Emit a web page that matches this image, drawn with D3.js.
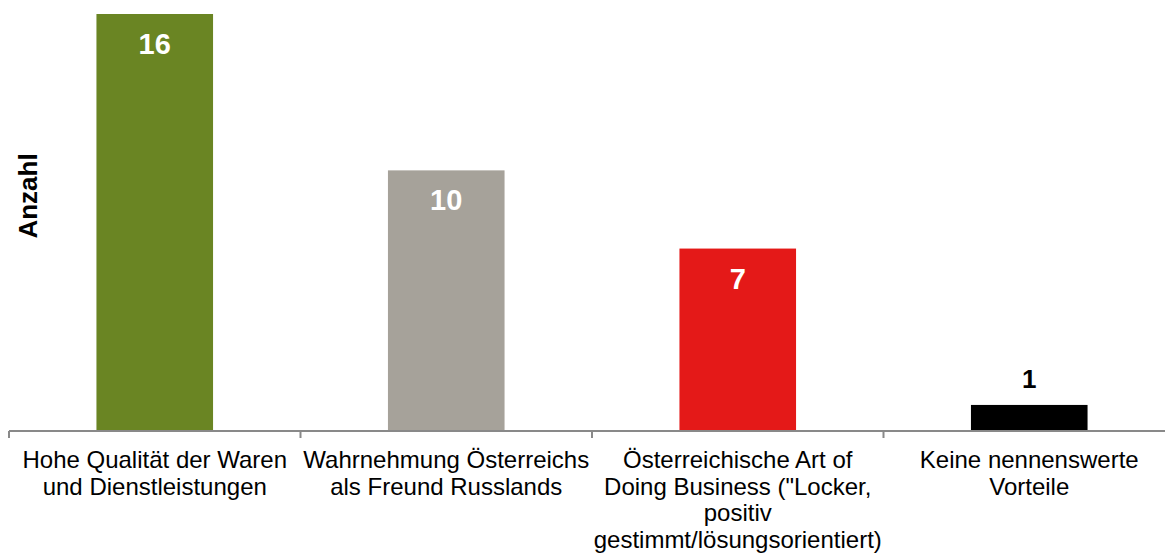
<!DOCTYPE html>
<html>
<head>
<meta charset="utf-8">
<script src="https://cdn.jsdelivr.net/npm/d3@7"></script>
<style>
  body { margin: 0; background: #ffffff; }
  svg { display: block; font-family: "Liberation Sans", Arial, sans-serif; }
</style>
</head>
<body>
<svg id="chart" width="1165" height="555"></svg>
<script>
// chart values
const categories = [
  'Hohe Qualität der Waren und Dienstleistungen',
  'Wahrnehmung Österreichs als Freund Russlands',
  'Österreichische Art of Doing Business ("Locker, positiv gestimmt/lösungsorientiert)',
  'Keine nennenswerte Vorteile',
];
const values = [16, 10, 7, 1];
const tickLines = [
  ['Hohe Qualität der Waren', 'und Dienstleistungen'],
  ['Wahrnehmung Österreichs', 'als Freund Russlands'],
  ['Österreichische Art of', 'Doing Business ("Locker,', 'positiv', 'gestimmt/lösungsorientiert)'],
  ['Keine nennenswerte', 'Vorteile'],
];
const barColors = ['#6a8523', '#a6a29a', '#e41918', '#000000'];
const yTitle = 'Anzahl';

const svg = d3.select('#chart');
const axisY = 431;

const x = d3.scaleBand()
  .domain(categories)
  .range([9, 1175])
  .paddingInner(0.6)
  .paddingOuter(0.3);

const y = d3.scaleLinear()
  .domain([0, 16])
  .range([axisY, 14]);

// bars
svg.selectAll('.bar')
  .data(values)
  .enter()
  .append('rect')
  .attr('class', 'bar')
  .attr('x', (d, i) => x(categories[i]))
  .attr('y', (d) => y(d))
  .attr('width', x.bandwidth())
  .attr('height', (d) => axisY - y(d))
  .attr('fill', (d, i) => barColors[i]);

// value labels (inside bar, or above when bar is short)
svg.selectAll('.val')
  .data(values)
  .enter()
  .append('text')
  .attr('class', 'val')
  .attr('x', (d, i) => x(categories[i]) + x.bandwidth() / 2)
  .attr('y', (d) => (d < 3 ? y(d) - 17 : y(d) + 40))
  .attr('text-anchor', 'middle')
  .attr('font-size', (d) => (d < 3 ? '26px' : '29px'))
  .attr('font-weight', 'bold')
  .attr('fill', (d) => (d < 3 ? '#000000' : '#ffffff'))
  .text((d) => d);

// x axis: baseline + ticks between categories
const axisColor = '#898989';
const boundaries = categories.map((c, i) => x.range()[0] + i * x.step());
boundaries.push(x.range()[1]);

svg.append('line')
  .attr('x1', x.range()[0])
  .attr('x2', x.range()[1])
  .attr('y1', axisY)
  .attr('y2', axisY)
  .attr('stroke', axisColor)
  .attr('stroke-width', 2);

svg.selectAll('.tick')
  .data(boundaries)
  .enter()
  .append('line')
  .attr('class', 'tick')
  .attr('x1', (d) => d)
  .attr('x2', (d) => d)
  .attr('y1', axisY)
  .attr('y2', axisY + 7)
  .attr('stroke', axisColor)
  .attr('stroke-width', 2);

// category labels
const labelG = svg.selectAll('.cat')
  .data(tickLines)
  .enter()
  .append('text')
  .attr('class', 'cat')
  .attr('text-anchor', 'middle')
  .attr('font-size', '24px')
  .attr('fill', '#000000');

labelG.each(function (lines, i) {
  const cx = x(categories[i]) + x.bandwidth() / 2;
  d3.select(this).selectAll('tspan')
    .data(lines)
    .enter()
    .append('tspan')
    .attr('x', cx)
    .attr('y', (d, j) => 468 + j * 26.5)
    .text((d) => d);
});

// y title
svg.append('text')
  .attr('transform', 'translate(37,196) rotate(-90)')
  .attr('text-anchor', 'middle')
  .attr('font-size', '26px')
  .attr('font-weight', 'bold')
  .attr('fill', '#000000')
  .text(yTitle);
</script>
</body>
</html>
